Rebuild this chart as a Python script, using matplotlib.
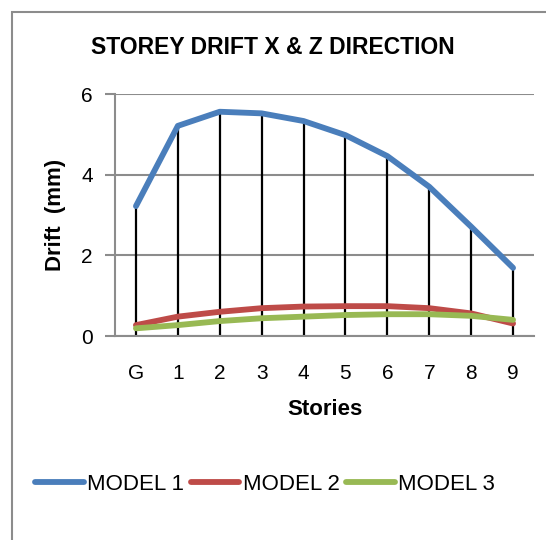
import numpy as np
import matplotlib
matplotlib.use("Agg")
import matplotlib.pyplot as plt
from matplotlib.patches import Rectangle

plt.rcParams['font.family'] = ['Liberation Sans', 'DejaVu Sans']

stories = ["G", "1", "2", "3", "4", "5", "6", "7", "8", "9"]
model1 = [3.22, 5.21, 5.56, 5.52, 5.33, 4.98, 4.46, 3.70, 2.71, 1.69]
model2 = [0.27, 0.48, 0.60, 0.69, 0.73, 0.74, 0.74, 0.69, 0.56, 0.31]
model3 = [0.19, 0.27, 0.37, 0.44, 0.48, 0.52, 0.54, 0.54, 0.50, 0.40]

series = [("MODEL 1", model1, "#4a7ebb"),
          ("MODEL 2", model2, "#be4b48"),
          ("MODEL 3", model3, "#98b954")]

fig = plt.figure(figsize=(5.46, 5.40), dpi=100)
ax = fig.add_axes([115 / 546, 1 - 336 / 540, 419 / 546, 242 / 540])

x = np.arange(len(stories))
top = np.max([model1, model2, model3], axis=0)
# drop lines from highest series down to the axis
ax.vlines(x, 0, top, color="black", lw=1.6, zorder=2)
for name, vals, c in series:
    ax.plot(x, vals, color=c, lw=4.2, label=name, solid_capstyle="round",
            solid_joinstyle="round", zorder=3)

ax.set_xlim(-0.5, 9.5)
ax.set_ylim(0, 6)
ax.set_yticks([0, 2, 4, 6])
ax.set_xticks(x)
ax.set_xticklabels(stories)
ax.grid(axis="y", color="#8c8c8c", lw=1.5, zorder=0)
ax.set_axisbelow(True)
for s in ("top", "right"):
    ax.spines[s].set_visible(False)
for s in ("left", "bottom"):
    ax.spines[s].set_color("#8c8c8c")
    ax.spines[s].set_linewidth(1.5)
ax.tick_params(axis="y", direction="out", length=7, width=1.5, color="#8c8c8c",
               labelsize=15, pad=9)
ax.tick_params(axis="x", length=0, labelsize=15, pad=20)

ax.set_xlabel("Stories", fontsize=16, fontweight="bold", labelpad=12)
ax.set_ylabel("Drift  (mm)", fontsize=16, fontweight="bold", labelpad=11)
fig.text(273 / 546, 1 - 48 / 540, "STOREY DRIFT X & Z DIRECTION",
         ha="center", va="center", fontsize=16.5, fontweight="bold")

fig.legend(loc="center", bbox_to_anchor=(265 / 546, 1 - 484 / 540), ncol=3,
           frameon=False, fontsize=16, handlelength=2.2, handletextpad=0.15,
           columnspacing=0.3)

# chart area border (cut off at right and bottom)
fig.patches.append(Rectangle((12 / 546, -0.1), 1.2, 1 - 12 / 540 + 0.1,
                             transform=fig.transFigure, fill=False,
                             edgecolor="#8c8c8c", lw=1.5))

fig.savefig("out.png", dpi=100)
